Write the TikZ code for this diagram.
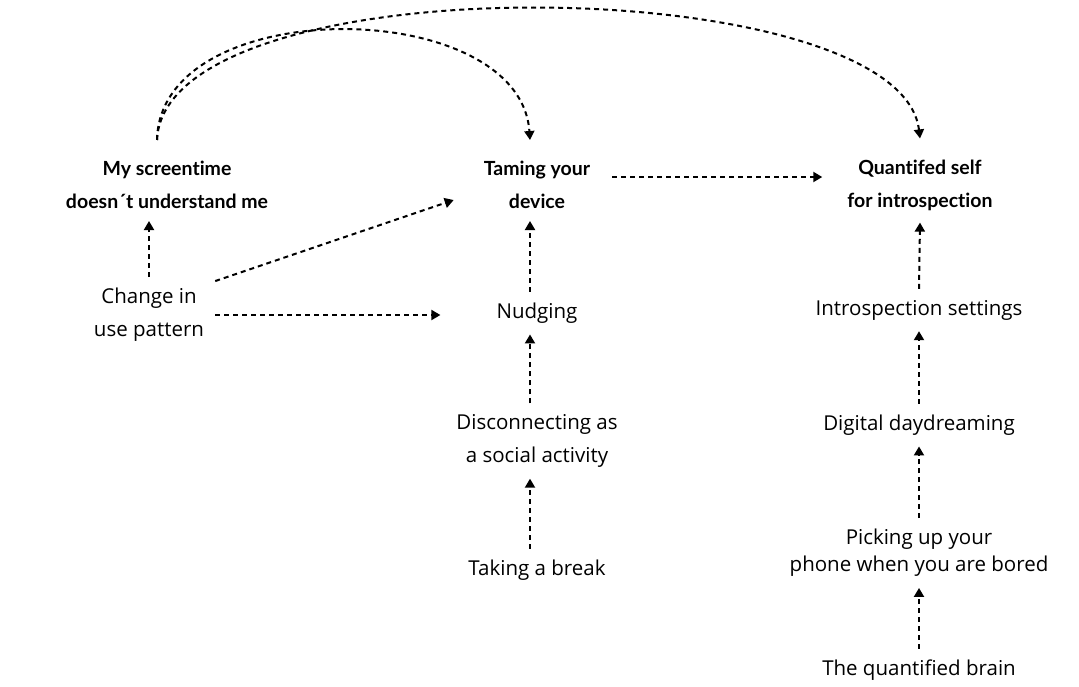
\documentclass[tikz,border=0pt]{standalone}
\usepackage{fontspec}
\setmainfont{Open Sans}
\newfontfamily\headfont{Lato}[Ligatures=NoCommon]
\usetikzlibrary{arrows.meta, positioning}

\tikzset{
  topic/.style={font=\headfont\bfseries\fontsize{19.5}{33}\selectfont, align=center, inner sep=12pt},
  idea/.style={font=\fontsize{20.5}{33}\selectfont, align=center, inner sep=11pt},
  link/.style={-{Triangle[length=9pt,width=10pt]}, line width=2pt, dash pattern=on 5pt off 4pt}
}

\begin{document}
\begin{tikzpicture}[x=1pt,y=-1pt]
    \useasboundingbox (0,0) rectangle (1079,686);

    % main topics
    \node[topic] (screen) at (167,185) {My screentime\\doesn´t understand me};
    \node[topic] (taming) at (537,185) {Taming your\\device};
    \node[topic] (quant) at (920,185) {Quantifed self\\for introspection};

    % left and middle column
    \node[idea] (change) at (149,315) {Change in\\use pattern};
    \node[idea] (nudging) at (537,313) {Nudging};
    \node[idea] (disconnect) at (537,441) {Disconnecting as\\a social activity};
    \node[idea] (break) at (537,570) {Taking a break};

    % right column
    \node[idea] (intro) at (919,310) {Introspection settings};
    \node[idea] (daydream) at (919,425) {Digital daydreaming};
    \node[idea,font=\fontsize{20.5}{27}\selectfont] (picking) at (919,553) {Picking up your\\phone when you are bored};
    \node[idea] (brain) at (919,670) {The quantified brain};

    % links
    \draw[link] (change.north) -- (change.north |- screen.south);
    \draw[link] ([yshift=-4pt]change.north east) -- ([xshift=-18pt,yshift=-15pt]taming.west);
    \draw[link] (change.east) -- ([xshift=-45pt]nudging.west |- change.east);
    \draw[link] ([xshift=10pt,yshift=8pt]taming.east) -- ([xshift=-13pt,yshift=8pt]quant.west);
    \draw[link] ([xshift=-7pt]nudging.north) -- ([xshift=-7pt]taming.south);
    \draw[link] ([xshift=-7pt]disconnect.north) -- ([xshift=-7pt]nudging.south);
    \draw[link] ([xshift=-7pt]break.north) -- ([xshift=-7pt]disconnect.south);
    \draw[link] (intro.north) -- (quant.south);
    \draw[link] (daydream.north) -- (intro.south);
    \draw[link] (picking.north) -- (daydream.south);
    \draw[link] (brain.north) -- (picking.south);

    % arcs over the top
    \draw[link] ([xshift=-10pt,yshift=9pt]screen.north) .. controls (160,-8) and (520,-5) .. ([xshift=-7pt,yshift=9pt]taming.north);
    \draw[link] ([xshift=-10pt,yshift=9pt]screen.north) .. controls (165,-40) and (900,-30) .. ([yshift=9pt]quant.north);
\end{tikzpicture}
\end{document}
